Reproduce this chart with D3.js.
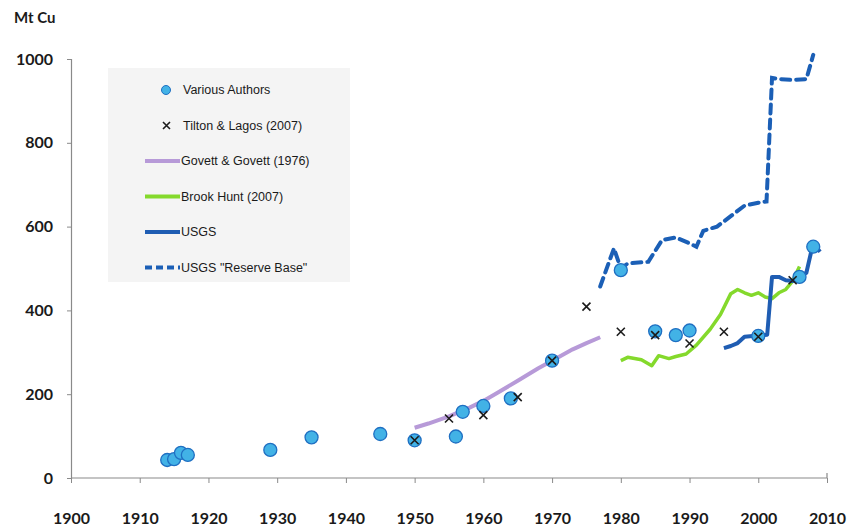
<!DOCTYPE html>
<html><head><meta charset="utf-8">
<script src="https://cdn.jsdelivr.net/npm/d3@7"></script>
<style>
body{margin:0;background:#fff;}
svg{display:block;}
</style></head>
<body>
<svg id="chart" width="852" height="531"></svg>
<script>
// ---- data ----
const yTicks = [0, 200, 400, 600, 800, 1000];
const xTicks = [1900,1910,1920,1930,1940,1950,1960,1970,1980,1990,2000,2010];
const yTitle = "Mt Cu";
const legendLabels = ["Various Authors","Tilton & Lagos (2007)","Govett & Govett (1976)","Brook Hunt (2007)","USGS","USGS \"Reserve Base\""];

const variousAuthors = [[1914,43],[1915,45],[1916,60],[1917,55],[1929,67],[1935,97],[1945,105],[1950,90],[1956,99],[1957,158],[1960,172],[1964,190],[1970,280],[1980,496],[1985,350],[1988,341],[1990,352],[2000,339],[2006,480],[2008,552]];
const tiltonLagos = [[1950,90],[1955,142],[1960,150],[1965,193],[1970,280],[1975,409],[1980,349],[1985,341],[1990,321],[1995,349],[2000,337],[2005,472]];
const govett = [[1950,120],[1952,130],[1955,147],[1958,168],[1960,184],[1962,203],[1965,232],[1968,262],[1970,280],[1973,307],[1975,322],[1977,336]];
const brookHunt = [[1980,280],[1981,288],[1982,285],[1983,282],[1984.5,268],[1985.5,292],[1987,285],[1988,290],[1989.5,296],[1991,317],[1993,355],[1994.5,390],[1996,440],[1997,450],[1998,442],[1999,436],[2000,442],[2001,432],[2002,428],[2003,442],[2004,450],[2005,470],[2006,505]];
const usgs = [[1995,310],[1996,315],[1997,322],[1998,337],[2000,340],[2001.3,342],[2002,480],[2003,480],[2004,472],[2005,470],[2006,480],[2007,490],[2007.7,540],[2008.2,555],[2009,540]];
const reserveBase = [[1977,457],[1979,548],[1980,500],[1981,512],[1984,516],[1986,568],[1988,574],[1990,560],[1991,552],[1992,590],[1994,600],[1996,625],[1998,650],[2000,657],[2001.2,660],[2002,955],[2003,952],[2005,950],[2007,952],[2008,1010]];

// ---- chart ----
const svg = d3.select("#chart");
const x = d3.scaleLinear().domain([1900,2010]).range([71,827]);
const y = d3.scaleLinear().domain([0,1000]).range([478,59]);

const axisFont = "Lato, 'Open Sans', sans-serif";
const legendFont = "'Liberation Sans Narrow', 'Liberation Sans', Arial, sans-serif";

// legend background
svg.append("rect").attr("x",108).attr("y",68).attr("width",242).attr("height",214).attr("fill","#f4f4f4");

// axes
const gy = svg.append("g").attr("transform","translate(71,0)")
  .call(d3.axisLeft(y).tickValues(yTicks).tickSize(4).tickPadding(14).tickFormat(d3.format("d")));
const gx = svg.append("g").attr("transform","translate(0,478)")
  .call(d3.axisBottom(x).tickValues(xTicks).tickSize(5).tickPadding(30).tickFormat(d3.format("d")));
[gx, gy].forEach(g => {
  g.select(".domain").attr("stroke","#8a8a8a").attr("stroke-width",1.2);
  g.selectAll(".tick line").attr("stroke","#8a8a8a");
  g.selectAll(".tick text").attr("fill","#1a1a1a").attr("font-family",axisFont)
    .attr("font-weight",700).attr("font-size",16);
});
gx.select(".domain").attr("d","M71,0H827V-5");

svg.append("text").attr("x",14).attr("y",23).text(yTitle)
  .attr("font-family",axisFont).attr("font-weight",700).attr("font-size",15).attr("fill","#1a1a1a");

const line = d3.line().x(d=>x(d[0])).y(d=>y(d[1])).curve(d3.curveLinear);

// lines
svg.append("path").datum(govett).attr("d",line).attr("fill","none")
  .attr("stroke","#b79ad8").attr("stroke-width",4).attr("stroke-linejoin","round");
svg.append("path").datum(brookHunt).attr("d",line).attr("fill","none")
  .attr("stroke","#84d92c").attr("stroke-width",3.5).attr("stroke-linejoin","round");
svg.append("path").datum(usgs).attr("d",line).attr("fill","none")
  .attr("stroke","#1f5db3").attr("stroke-width",4).attr("stroke-linejoin","round");
svg.append("path").datum(reserveBase).attr("d",line).attr("fill","none")
  .attr("stroke","#1b5fb6").attr("stroke-width",4).attr("stroke-dasharray","9,6").attr("stroke-linecap","round");

// circles
svg.append("g").selectAll("circle").data(variousAuthors).join("circle")
  .attr("cx",d=>x(d[0])).attr("cy",d=>y(d[1])).attr("r",6.5)
  .attr("fill","#42b2e6").attr("stroke","#1f6fc2").attr("stroke-width",1.3);

// X markers
const xs = 4;
svg.append("g").selectAll("path").data(tiltonLagos).join("path")
  .attr("d",d=>{const cx=x(d[0]), cy=y(d[1]); return `M${cx-xs},${cy-xs}L${cx+xs},${cy+xs}M${cx-xs},${cy+xs}L${cx+xs},${cy-xs}`;})
  .attr("stroke","#1b1b1b").attr("stroke-width",1.6).attr("fill","none");

// legend
const lg = svg.append("g");
const ly = i => 90 + i*35.5;
lg.append("circle").attr("cx",166).attr("cy",ly(0)).attr("r",4.5).attr("fill","#42b2e6").attr("stroke","#1f6fc2");
lg.append("path").attr("d",`M${163},${ly(1)-3.5}L${170},${ly(1)+3.5}M${163},${ly(1)+3.5}L${170},${ly(1)-3.5}`).attr("stroke","#1b1b1b").attr("stroke-width",1.6);
const legLines = [
  {i:2,c:"#b79ad8",dash:null},
  {i:3,c:"#84d92c",dash:null},
  {i:4,c:"#1f5db3",dash:null},
  {i:5,c:"#1b5fb6",dash:"7,4"}
];
legLines.forEach(l=>{
  lg.append("line").attr("x1",145).attr("x2",180).attr("y1",ly(l.i)).attr("y2",ly(l.i))
    .attr("stroke",l.c).attr("stroke-width",4).attr("stroke-dasharray",l.dash);
});
lg.selectAll("text").data(legendLabels).join("text")
  .attr("x",(d,i)=> i<2 ? 183 : 181).attr("y",(d,i)=>ly(i)).attr("dy","0.35em")
  .text(d=>d).attr("font-family",legendFont).attr("font-size",12.5).attr("fill","#1a1a1a");
</script>
</body></html>
